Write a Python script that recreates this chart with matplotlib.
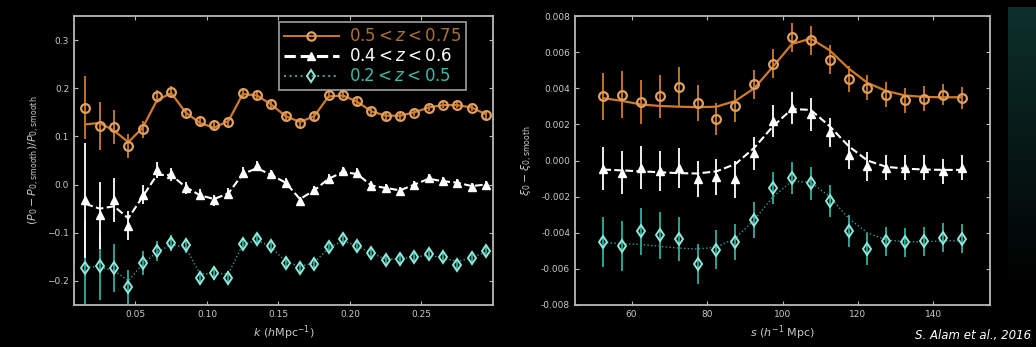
import numpy as np
import matplotlib.pyplot as plt

# --- left panel: P(k) BAO wiggles ---
k = np.arange(0.015, 0.2951, 0.01)

pk_high = [0.160, 0.121, 0.120, 0.081, 0.115, 0.183, 0.193, 0.149, 0.132, 0.123,
           0.130, 0.191, 0.187, 0.168, 0.142, 0.128, 0.142, 0.187, 0.187, 0.174,
           0.152, 0.142, 0.142, 0.149, 0.160, 0.166, 0.166, 0.160, 0.144]
pk_high_err = [0.065, 0.050, 0.035, 0.025, 0.018, 0.014, 0.012, 0.011, 0.010, 0.010,
               0.010, 0.009, 0.009, 0.009, 0.008, 0.008, 0.008, 0.008, 0.008, 0.008,
               0.007, 0.007, 0.007, 0.007, 0.007, 0.007, 0.007, 0.007, 0.007]
pk_high_model = [0.125, 0.128, 0.112, 0.088, 0.118, 0.175, 0.190, 0.150, 0.128, 0.118,
                 0.132, 0.188, 0.185, 0.166, 0.142, 0.130, 0.142, 0.183, 0.185, 0.172,
                 0.152, 0.143, 0.143, 0.150, 0.160, 0.165, 0.165, 0.160, 0.146]

pk_mid = [-0.033, -0.064, -0.032, -0.085, -0.021, 0.030, 0.021, -0.007, -0.021, -0.033,
          -0.019, 0.025, 0.038, 0.021, 0.004, -0.035, -0.012, 0.012, 0.028, 0.025,
          -0.002, -0.007, -0.014, 0.000, 0.014, 0.007, 0.004, -0.004, 0.000]
pk_mid_err = [0.120, 0.070, 0.045, 0.030, 0.020, 0.016, 0.014, 0.013, 0.012, 0.012,
              0.011, 0.011, 0.010, 0.010, 0.010, 0.010, 0.009, 0.009, 0.009, 0.009,
              0.009, 0.008, 0.008, 0.008, 0.008, 0.008, 0.008, 0.008, 0.008]
pk_mid_model = [-0.040, -0.050, -0.045, -0.070, -0.025, 0.020, 0.020, -0.005, -0.022, -0.030,
                -0.018, 0.022, 0.034, 0.020, 0.004, -0.030, -0.012, 0.012, 0.026, 0.022,
                -0.002, -0.007, -0.012, 0.000, 0.012, 0.007, 0.004, -0.003, 0.000]

pk_low = [-0.174, -0.170, -0.174, -0.213, -0.163, -0.138, -0.121, -0.126, -0.194, -0.184,
          -0.194, -0.123, -0.113, -0.128, -0.163, -0.174, -0.165, -0.130, -0.113, -0.128,
          -0.142, -0.157, -0.155, -0.151, -0.145, -0.151, -0.166, -0.153, -0.138]
pk_low_err = [0.100, 0.070, 0.050, 0.035, 0.025, 0.020, 0.017, 0.016, 0.015, 0.014,
              0.014, 0.013, 0.013, 0.012, 0.012, 0.012, 0.011, 0.011, 0.011, 0.011,
              0.010, 0.010, 0.010, 0.010, 0.010, 0.010, 0.010, 0.010, 0.010]
pk_low_model = [-0.170, -0.172, -0.178, -0.200, -0.165, -0.140, -0.125, -0.130, -0.185, -0.185,
                -0.185, -0.125, -0.115, -0.130, -0.160, -0.170, -0.162, -0.132, -0.116, -0.128,
                -0.142, -0.155, -0.154, -0.150, -0.147, -0.152, -0.160, -0.152, -0.140]

# --- right panel: xi(s) BAO peak, in units of 1e-3 ---
s = np.arange(52.5, 148, 5.0)

xi_high = [3.56, 3.65, 3.23, 3.56, 4.08, 3.16, 2.31, 3.01, 4.21, 5.37,
           6.83, 6.66, 5.59, 4.52, 4.03, 3.65, 3.34, 3.42, 3.65, 3.47]
xi_high_err = [1.3, 1.3, 1.2, 1.2, 1.1, 1.0, 0.9, 0.9, 0.8, 0.8,
               0.8, 0.8, 0.8, 0.7, 0.7, 0.7, 0.7, 0.7, 0.6, 0.6]
xi_high_model = [3.45, 3.30, 3.10, 3.02, 2.98, 2.95, 2.98, 3.30, 4.00, 5.20,
                 6.45, 6.75, 6.10, 5.10, 4.30, 3.85, 3.60, 3.52, 3.50, 3.50]

xi_mid = [-0.45, -0.68, -0.40, -0.60, -0.40, -1.00, -0.90, -1.05, 0.39, 2.18,
          2.92, 2.55, 1.57, 0.33, -0.31, -0.40, -0.40, -0.40, -0.59, -0.40]
xi_mid_err = [1.2, 1.2, 1.2, 1.1, 1.1, 1.0, 1.0, 1.0, 0.9, 0.9,
              0.9, 0.9, 0.8, 0.8, 0.8, 0.7, 0.7, 0.7, 0.7, 0.7]
xi_mid_model = [-0.50, -0.55, -0.60, -0.65, -0.70, -0.72, -0.60, -0.20, 0.70, 1.90,
                2.85, 2.80, 1.90, 0.80, 0.00, -0.35, -0.45, -0.50, -0.52, -0.52]

xi_low = [-4.52, -4.74, -3.91, -4.15, -4.34, -5.72, -4.93, -4.52, -3.27, -1.51,
          -0.96, -1.27, -2.25, -3.91, -4.89, -4.47, -4.52, -4.47, -4.28, -4.34]
xi_low_err = [1.4, 1.4, 1.3, 1.3, 1.2, 1.1, 1.1, 1.0, 1.0, 0.9,
              0.9, 0.9, 0.9, 0.9, 0.9, 0.8, 0.8, 0.8, 0.8, 0.8]
xi_low_model = [-4.55, -4.60, -4.65, -4.75, -4.85, -4.90, -4.80, -4.30, -3.30, -2.00,
                -1.15, -1.20, -2.00, -3.20, -4.00, -4.40, -4.50, -4.50, -4.45, -4.45]

labels = [r'$0.5 < z < 0.75$', r'$0.4 < z < 0.6$', r'$0.2 < z < 0.5$']
xi_ticks = [-0.008, -0.006, -0.004, -0.002, 0.0, 0.002, 0.004, 0.006, 0.008]

c_orange = '#e0a060'
c_orange_line = '#d07a2a'
c_white = '#ffffff'
c_teal = '#8fe8d8'
c_teal_err = '#2fb0a0'
c_teal_line = '#3a9a90'
spine_c = '#b8b8b8'
tick_c = '#c8c8c8'

plt.rcParams['font.family'] = 'DejaVu Sans'
plt.rcParams['mathtext.fontset'] = 'dejavusans'

fig = plt.figure(figsize=(10.36, 3.47), dpi=100, facecolor='black')

# teal strip on the right edge
strip = fig.add_axes([1008 / 1036, 0.16, 28 / 1036, 0.82])
grad = np.linspace(1, 0, 100).reshape(-1, 1)
strip.imshow(grad, aspect='auto', cmap=plt.matplotlib.colors.LinearSegmentedColormap.from_list(
    'strip', ['#000000', '#0d302c']), vmin=0, vmax=1)
strip.axis('off')


def style_axes(ax):
    ax.set_facecolor('black')
    for sp in ax.spines.values():
        sp.set_color(spine_c)
        sp.set_linewidth(1.3)
    ax.tick_params(direction='in', top=True, right=True, colors=spine_c,
                   labelcolor=tick_c, labelsize=6.5, length=3, width=0.8)


ekw = dict(linestyle='none', capsize=0, elinewidth=1.3)

ax1 = fig.add_axes([74 / 1036, 1 - 305 / 347, 419 / 1036, 289 / 347])
style_axes(ax1)

ax1.errorbar(k, pk_low, yerr=pk_low_err, ecolor=c_teal_err, **ekw)
ax1.errorbar(k, pk_mid, yerr=pk_mid_err, ecolor=c_white, **ekw)
ax1.errorbar(k, pk_high, yerr=pk_high_err, ecolor=c_orange_line, **ekw)

ax1.plot(k, pk_high_model, '-', color=c_orange_line, lw=1.6)
ax1.plot(k, pk_mid_model, '--', color=c_white, lw=1.5)
ax1.plot(k, pk_low_model, ':', color=c_teal_line, lw=1.0)

ax1.plot(k, pk_high, 'o', mfc='none', mec=c_orange, mew=1.6, ms=6.3)
ax1.plot(k, pk_mid, '^', mfc=c_white, mec=c_white, ms=5.3)
ax1.plot(k, pk_low, 'd', mfc='none', mec=c_teal, mew=1.4, ms=6.3)

# legend handles: marker + line style
lh1, = ax1.plot([], [], 'o-', color=c_orange_line, mfc='none', mec=c_orange, mew=1.6, ms=6, lw=1.4)
lh2, = ax1.plot([], [], '^--', color=c_white, ms=5.5, lw=2.2)
lh3, = ax1.plot([], [], 'd:', color=c_teal_line, mfc='none', mec=c_teal, mew=1.4, ms=6)
leg = ax1.legend([lh1, lh2, lh3], labels, loc='upper right',
                 bbox_to_anchor=(0.935, 0.978), fontsize=12,
                 frameon=True, facecolor='black', edgecolor=spine_c,
                 handlelength=3.3, borderaxespad=0.0, fancybox=False,
                 labelspacing=0.12, borderpad=0.3, handletextpad=0.6)
leg.get_frame().set_linewidth(1.3)
for txt, col in zip(leg.get_texts(), ['#a87238', c_white, '#3fb8a8']):
    txt.set_color(col)

ax1.set_xlim(0.007, 0.30)
ax1.set_ylim(-0.25, 0.35)
ax1.set_xticks([0.05, 0.10, 0.15, 0.20, 0.25])
ax1.set_xticklabels(['0.05', '0.10', '0.15', '0.20', '0.25'])
ax1.set_yticks([-0.2, -0.1, 0.0, 0.1, 0.2, 0.3])
ax1.set_xlabel(r'$k\ (h{\rm Mpc}^{-1})$', color=tick_c, fontsize=8, labelpad=3)
ax1.set_ylabel(r'$(P_0 - P_{\rm 0,smooth})/P_{\rm 0,smooth}$', color=tick_c,
               fontsize=8, labelpad=4)

ax2 = fig.add_axes([575 / 1036, 1 - 305 / 347, 415 / 1036, 289 / 347])
style_axes(ax2)

ax2.errorbar(s, np.array(xi_low) * 1e-3, yerr=np.array(xi_low_err) * 1e-3, ecolor=c_teal_err, **ekw)
ax2.errorbar(s, np.array(xi_mid) * 1e-3, yerr=np.array(xi_mid_err) * 1e-3, ecolor=c_white, **ekw)
ax2.errorbar(s, np.array(xi_high) * 1e-3, yerr=np.array(xi_high_err) * 1e-3, ecolor=c_orange_line, **ekw)

ax2.plot(s, np.array(xi_high_model) * 1e-3, '-', color=c_orange_line, lw=1.6)
ax2.plot(s, np.array(xi_mid_model) * 1e-3, '--', color=c_white, lw=1.5)
ax2.plot(s, np.array(xi_low_model) * 1e-3, ':', color=c_teal_line, lw=1.0)

ax2.plot(s, np.array(xi_high) * 1e-3, 'o', mfc='none', mec=c_orange, mew=1.6, ms=6.3)
ax2.plot(s, np.array(xi_mid) * 1e-3, '^', mfc=c_white, mec=c_white, ms=5.3)
ax2.plot(s, np.array(xi_low) * 1e-3, 'd', mfc='none', mec=c_teal, mew=1.4, ms=6.3)

ax2.set_xlim(45, 155)
ax2.set_ylim(-0.008, 0.008)
ax2.set_xticks([60, 80, 100, 120, 140])
ax2.set_yticks(xi_ticks)
ax2.set_yticklabels(['%.3f' % abs(v) if v == 0 else '%.3f' % v for v in xi_ticks])
ax2.set_xlabel(r'$s\ (h^{-1}\ {\rm Mpc})$', color=tick_c, fontsize=8, labelpad=3)
ax2.set_ylabel(r'$\xi_0 - \xi_{\rm 0,smooth}$', color=tick_c, fontsize=8, labelpad=4)

fig.text(0.995, 0.015, 'S. Alam et al., 2016', color='white', fontsize=8.5,
         style='italic', ha='right', va='bottom')

fig.savefig('out.png', dpi=100, facecolor='black')
